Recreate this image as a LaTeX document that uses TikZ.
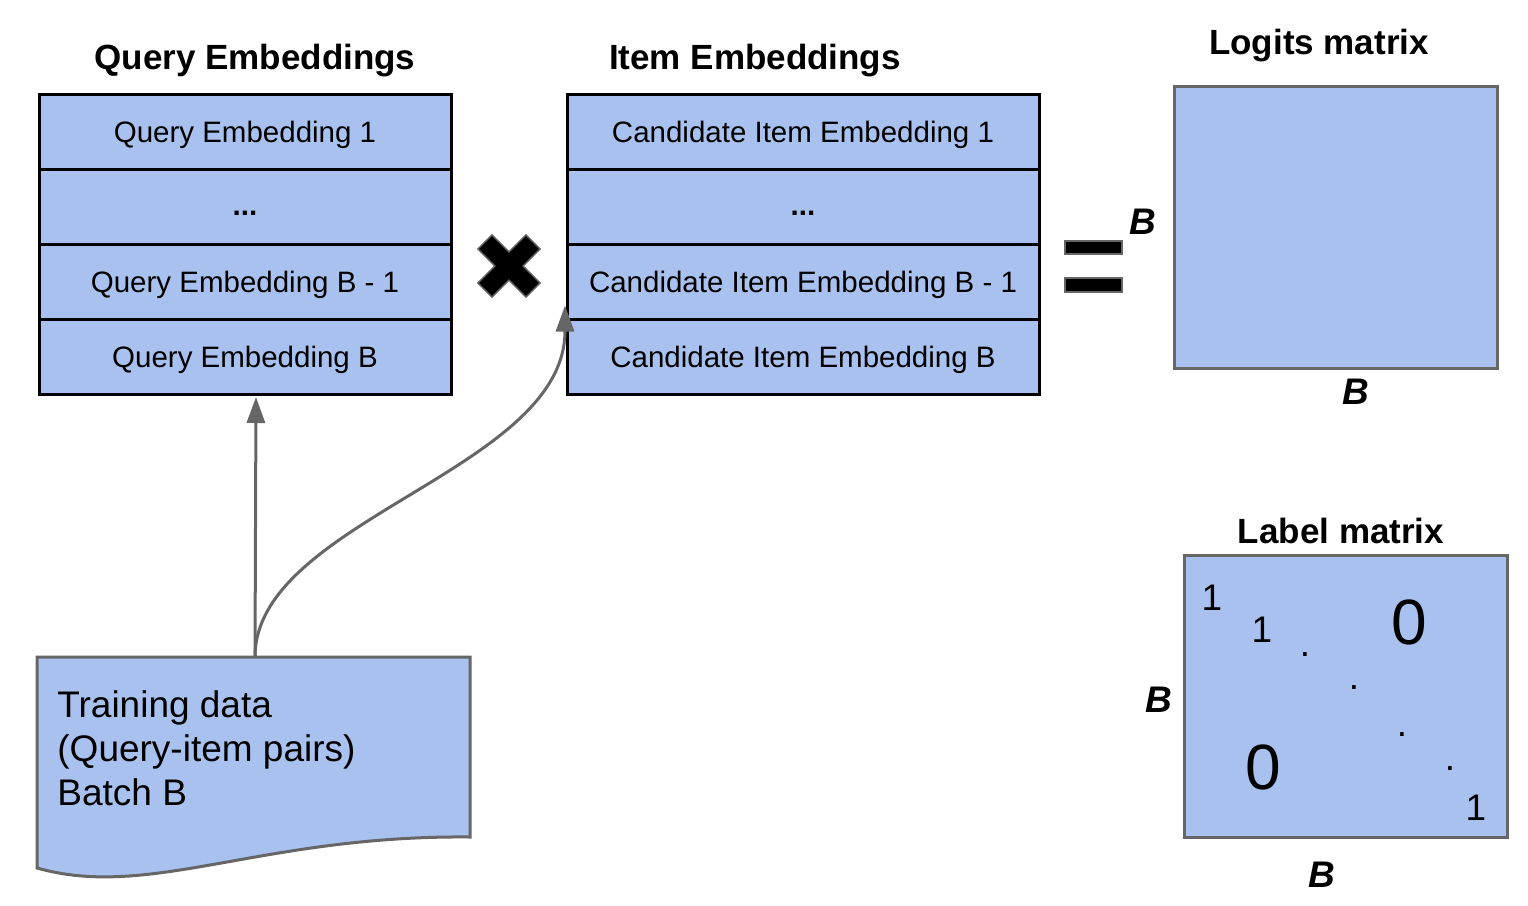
\documentclass[tikz,border=0pt]{standalone}
\usepackage{fontspec}
\setmainfont{Liberation Sans}
\usetikzlibrary{arrows.meta,calc}
\definecolor{boxblue}{HTML}{A8C1EE}
\definecolor{edgegray}{HTML}{666666}
\begin{document}
\begin{tikzpicture}[x=0.5pt,y=-0.5pt,
 row/.style={draw=black,line width=1.5pt,fill=boxblue,minimum height=37.5pt,inner sep=0pt,outer sep=0pt,text depth=0pt,font=\fontsize{14.75}{17}\selectfont},
 qrow/.style={row,minimum width=206pt},
 irow/.style={row,minimum width=236pt},
 dotrow/.style={text height=8.7pt,font=\fontsize{14.75}{17}\selectfont\bfseries},
 title/.style={font=\fontsize{17.5}{20}\selectfont\bfseries,inner sep=0pt},
 blabel/.style={font=\fontsize{18.5}{20}\selectfont\bfseries\itshape,inner sep=0pt},
 matbox/.style={draw=edgegray,line width=1.5pt,fill=boxblue,minimum width=161.5pt,minimum height=141pt,inner sep=0pt,outer sep=0pt},
 conn/.style={draw=edgegray,line width=1.5pt,-{Triangle[length=13pt,width=9pt]}},
 smallnum/.style={font=\fontsize{18.5}{20}\selectfont,inner sep=0pt},
 bignum/.style={font=\fontsize{32}{34}\selectfont,inner sep=0pt},
 symb/.style={draw=edgegray,line width=0.75pt,fill=black},
]
\useasboundingbox (0,0) rectangle (1528,906);

% titles
\node[title] (tq) at (255,61) {Query Embeddings};
\node[title] (ti) at (755,61) {Item Embeddings};
\node[title] (tl) at (1319,46) {Logits matrix};
\node[title] (tm) at (1341,531) {Label matrix};

% query embeddings
\node[qrow] (q1) at (245,131.5) {Query Embedding 1};
\node[qrow,dotrow] (q2) at (245,206.5) {...};
\node[qrow] (q3) at (245,281.5) {Query Embedding B - 1};
\node[qrow] (q4) at (245,356.5) {Query Embedding B};

% item embeddings
\node[irow] (i1) at (803,131.5) {Candidate Item Embedding 1};
\node[irow,dotrow] (i2) at (803,206.5) {...};
\node[irow] (i3) at (803,281.5) {Candidate Item Embedding B - 1};
\node[irow] (i4) at (803,356.5) {Candidate Item Embedding B};

% times symbol
\begin{scope}[shift={(509,266)},rotate=45]
\draw[symb] (10,34) -- (10,10) -- (34,10) -- (34,-10) -- (10,-10) -- (10,-34) -- (-10,-34) -- (-10,-10) -- (-34,-10) -- (-34,10) -- (-10,10) -- (-10,34) -- cycle;
\end{scope}

% equals symbol
\draw[symb] (1065,241) rectangle (1122,254);
\draw[symb] (1065,278) rectangle (1122,292);

% logits matrix
\node[matbox] (logits) at (1335.5,227) {};
\node[blabel] (lb1) at (1143,222) {B};
\node[blabel] (lb2) at (1356,392) {B};

% label matrix
\node[matbox] (labels) at (1345.5,696) {};
\node[blabel] (mb1) at (1159,700) {B};
\node[blabel] (mb2) at (1322,875) {B};
\node[smallnum] (n1) at (1212,598) {1};
\node[smallnum] (n2) at (1262,630) {1};
\node[smallnum] (d1) at (1305,655) {.};
\node[smallnum] (d2) at (1354,688) {.};
\node[smallnum] (d3) at (1402,735) {.};
\node[smallnum] (d4) at (1450,769) {.};
\node[smallnum] (n3) at (1476,808) {1};
\node[bignum] (z1) at (1409,622) {0};
\node[bignum] (z2) at (1263,767) {0};

% training data document
\draw[edgegray,line width=1.5pt,fill=boxblue] (37,657) -- (470,657) -- (470,837) .. controls (260,835) and (150,900) .. (37,868) -- cycle;
\node[anchor=west,align=left,inner sep=0pt,font=\fontsize{18.5}{22}\selectfont] (doc) at (57,748) {Training data\\(Query-item pairs)\\Batch B};
\coordinate (dtop) at (255,657);

% connectors
\draw[conn] (dtop) -- ($(q4.south)+(11,3)$);
\draw[conn] (dtop) .. controls +(0,-137) and +(0,165) .. ($(i3.west)+(-2,24)$);
\end{tikzpicture}
\end{document}
